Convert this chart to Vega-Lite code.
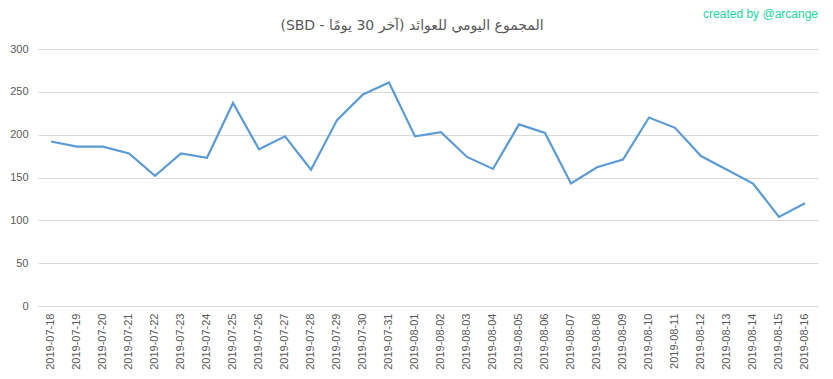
{
  "$schema": "https://vega.github.io/schema/vega-lite/v6.json",
  "width": 780,
  "height": 257,
  "autosize": "none",
  "padding": {"left": 38, "top": 49, "right": 15, "bottom": 73},
  "background": "white",
  "title": {
    "text": "\u202bالمجموع اليومي للعوائد (آخر 30 يومًا - SBD)\u202c",
    "font": "DejaVu Sans",
    "fontSize": 14,
    "fontWeight": "normal",
    "color": "#595959",
    "anchor": "middle",
    "dx": -16,
    "offset": -25
  },
  "config": {
    "view": {"stroke": null},
    "font": "Liberation Sans"
  },
  "data": {
    "values": [
      {"date": "2019-07-18", "value": 192},
      {"date": "2019-07-19", "value": 186},
      {"date": "2019-07-20", "value": 186},
      {"date": "2019-07-21", "value": 178},
      {"date": "2019-07-22", "value": 152},
      {"date": "2019-07-23", "value": 178},
      {"date": "2019-07-24", "value": 173},
      {"date": "2019-07-25", "value": 237},
      {"date": "2019-07-26", "value": 183},
      {"date": "2019-07-27", "value": 198},
      {"date": "2019-07-28", "value": 159},
      {"date": "2019-07-29", "value": 217},
      {"date": "2019-07-30", "value": 247},
      {"date": "2019-07-31", "value": 261},
      {"date": "2019-08-01", "value": 198},
      {"date": "2019-08-02", "value": 203},
      {"date": "2019-08-03", "value": 174},
      {"date": "2019-08-04", "value": 160},
      {"date": "2019-08-05", "value": 212},
      {"date": "2019-08-06", "value": 202},
      {"date": "2019-08-07", "value": 143},
      {"date": "2019-08-08", "value": 162},
      {"date": "2019-08-09", "value": 171},
      {"date": "2019-08-10", "value": 220},
      {"date": "2019-08-11", "value": 208},
      {"date": "2019-08-12", "value": 175},
      {"date": "2019-08-13", "value": 159},
      {"date": "2019-08-14", "value": 143},
      {"date": "2019-08-15", "value": 104},
      {"date": "2019-08-16", "value": 120}
    ]
  },
  "layer": [
    {
      "mark": {"type": "line", "color": "#5B9BD5", "strokeWidth": 2.2},
      "encoding": {
        "x": {
          "field": "date",
          "type": "ordinal",
          "scale": {"type": "band", "paddingInner": 0, "paddingOuter": 0},
          "axis": {
            "title": null,
            "labelAngle": -90,
            "labelFontSize": 11,
            "labelColor": "#595959",
            "labelPadding": 7,
            "ticks": false,
            "domainColor": "#D9D9D9",
            "grid": false
          }
        },
        "y": {
          "field": "value",
          "type": "quantitative",
          "scale": {"domain": [0, 300]},
          "axis": {
            "title": null,
            "values": [0, 50, 100, 150, 200, 250, 300],
            "labelFontSize": 11,
            "labelColor": "#595959",
            "labelPadding": 10,
            "ticks": false,
            "domain": false,
            "gridColor": "#D9D9D9"
          }
        }
      }
    },
    {
      "data": {"values": [{"date": "2019-08-16", "value": 300, "label": "created by @arcange"}]},
      "mark": {"type": "text", "align": "right", "baseline": "middle", "dx": 13, "dy": -35, "fontSize": 12, "color": "#1AD6A0"},
      "encoding": {
        "x": {"field": "date", "type": "ordinal"},
        "y": {"field": "value", "type": "quantitative"},
        "text": {"field": "label"}
      }
    }
  ]
}
